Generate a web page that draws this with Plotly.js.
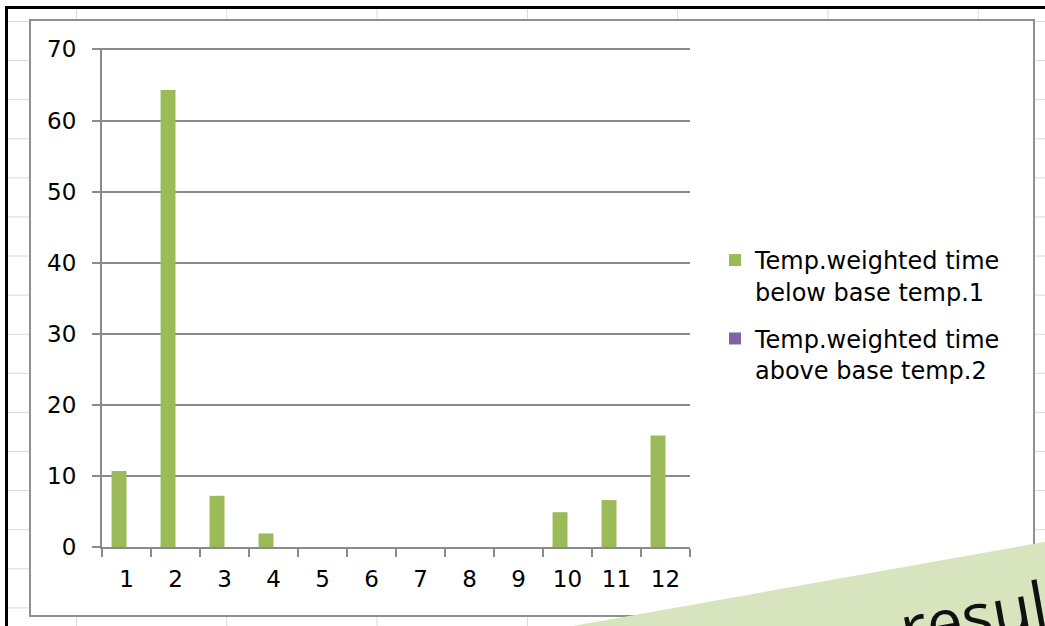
<!DOCTYPE html>
<html>
<head>
<meta charset="utf-8">
<script src="https://cdn.plot.ly/plotly-3.0.1.min.js"></script>
<style>
  html, body { margin: 0; padding: 0; width: 1045px; height: 626px; overflow: hidden; background: #fff; }
  #sheet {
    position: absolute; left: 5px; top: 6px; width: 1040px; height: 620px;
    border-left: 3px solid #000; border-top: 3px solid #000;
    background-image: linear-gradient(to right, #d9d9d9 1px, transparent 1px),
                      linear-gradient(to bottom, #d9d9d9 1px, transparent 1px);
    background-size: 150.3px 39.1px;
    background-position: 68px 12px;
  }
  #frame {
    position: absolute; left: 29px; top: 19px; width: 1002px; height: 594px;
    border: 2px solid #8f8f8f; background: #fff;
  }
  #chart { position: absolute; left: 0; top: 0; width: 1045px; height: 626px; }
  #overlay {
    position: absolute; left: 573px; top: 626px; width: 700px; height: 300px;
    background: #d7e4bd; transform-origin: 0 0; transform: rotate(-10.1deg);
    overflow: hidden;
  }
  #overlay span {
    position: absolute; left: 322px; top: 16px; font-family: "Open Sans", "Noto Sans", sans-serif;
    font-size: 64px; color: #111; white-space: nowrap; line-height: normal;
  }
</style>
</head>
<body>
<div id="sheet"></div>
<div id="frame"></div>
<div id="chart"></div>
<div id="overlay"><span>resul</span></div>
<script>
const categories = ['1','2','3','4','5','6','7','8','9','10','11','12'];
const belowBase = [10.7, 64.3, 7.2, 1.9, 0, 0, 0, 0, 0, 4.9, 6.6, 15.7];
const aboveBase = [0, 0, 0, 0, 0, 0, 0, 0, 0, 0, 0, 0];
const seriesNames = ['Temp.weighted time<br>below base temp.1', 'Temp.weighted time<br>above base temp.2'];
const yTicks = [0, 10, 20, 30, 40, 50, 60, 70];

const font = { family: '"DejaVu Sans", sans-serif', size: 23, color: '#000' };
const legendFont = { family: '"DejaVu Sans", sans-serif', size: 24, color: '#000' };
const axisGray = '#8a8a8a';

const traces = [
  { type: 'bar', x: categories, y: belowBase, name: seriesNames[0], legendgroup: 'a',
    marker: { color: '#9bbb59', line: { width: 0 } } },
  { type: 'bar', x: categories, y: aboveBase, name: seriesNames[1], legendgroup: 'b',
    marker: { color: '#8064a2', line: { width: 0 } } }
];

const layout = {
  width: 1045, height: 626,
  margin: { l: 102, r: 355, t: 48, b: 79, pad: 0 },
  paper_bgcolor: 'rgba(0,0,0,0)', plot_bgcolor: 'rgba(0,0,0,0)',
  font: font,
  barmode: 'group', bargap: 0.39, bargroupgap: 0,
  hovermode: false,
  xaxis: {
    type: 'category', tickson: 'boundaries', ticks: 'outside', ticklen: 8, tickwidth: 2,
    tickcolor: axisGray, showline: true, linecolor: axisGray, linewidth: 2,
    showgrid: false, zeroline: false, ticklabelstandoff: 10, tickfont: font
  },
  yaxis: {
    range: [0, 70.2], tickvals: yTicks, ticks: 'outside', ticklen: 8, tickwidth: 2,
    tickcolor: axisGray, showline: true, linecolor: axisGray, linewidth: 2,
    showgrid: true, gridcolor: axisGray, gridwidth: 2, zeroline: false,
    ticklabelstandoff: 11, tickfont: font
  },
  showlegend: true,
  legend: {
    x: 1.0425, xanchor: 'left', y: 0.465, yanchor: 'middle',
    valign: 'top', tracegroupgap: 13, font: legendFont, bgcolor: 'rgba(0,0,0,0)'
  }
};

Plotly.newPlot('chart', traces, layout, { displayModeBar: false, staticPlot: true });
</script>
</body>
</html>
